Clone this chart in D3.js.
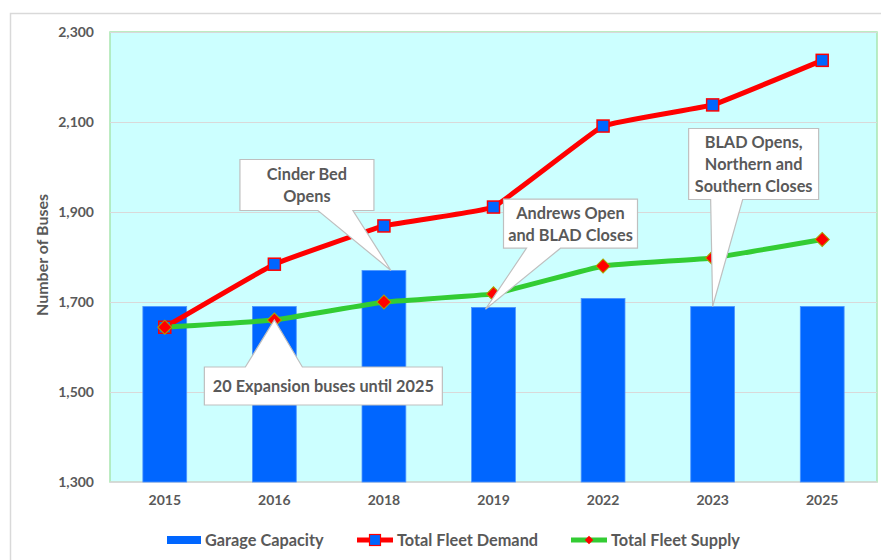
<!DOCTYPE html>
<html>
<head>
<meta charset="utf-8">
<script src="https://cdn.jsdelivr.net/npm/d3@7"></script>
<style>
  body { margin: 0; background: #fff; }
  text { font-family: Lato, "Open Sans", sans-serif; fill: #595959; font-weight: bold; }
</style>
</head>
<body>
<div id="chart"><svg></svg></div>
<script>
const categories = ["2015", "2016", "2018", "2019", "2022", "2023", "2025"];
const garageCapacity = [1690, 1690, 1770, 1688, 1708, 1690, 1690];
const fleetDemand = [1644, 1784, 1869, 1911, 2091, 2138, 2237];
const fleetSupply = [1644, 1660, 1700, 1718, 1780, 1798, 1839];
const yTicks = [1300, 1500, 1700, 1900, 2100, 2300];
const seriesNames = ["Garage Capacity", "Total Fleet Demand", "Total Fleet Supply"];

// callouts: tip anchored to a data point, box placed relative to the tip
const callouts = [
  {lines: ["Cinder Bed", "Opens"], cat: "2018", value: 1770, tipDx: 7,
    box: [-151, -17, -111, -60], tail: [-73, -38], side: "bottom"},
  {lines: ["20 Expansion buses until 2025"], cat: "2016", value: 1660, tipDx: 0,
    box: [-70, 168, 47, 85], tail: [-29, 28], side: "top"},
  {lines: ["Andrews Open", "and BLAD Closes"], cat: "2019", value: 1684, tipDx: -8,
    box: [18, 152, -110, -61], tail: [41, 75], side: "bottom"},
  {lines: ["BLAD Opens,", "Northern and", "Southern Closes"], cat: "2023", value: 1690, tipDx: 0,
    box: [-24, 106, -178, -107], tail: [-2, 30], side: "bottom"}
];

const chartSize = {width: 881, height: 560};
const margin = {left: 110, right: 4, top: 32, bottom: 78};
const width = chartSize.width - margin.left - margin.right;
const height = chartSize.height - margin.top - margin.bottom;

const svg = d3.select("#chart svg")
  .attr("width", chartSize.width)
  .attr("height", chartSize.height);

// outer frame
svg.append("path")
  .attr("d", "M10.5,570 V13.5 H890")
  .attr("fill", "none")
  .attr("stroke", "#d9d9d9")
  .attr("stroke-width", 1.5);

const g = svg.append("g")
  .attr("transform", `translate(${margin.left},${margin.top})`);

const x = d3.scaleBand()
  .domain(categories)
  .range([0, width])
  .paddingInner(0.6)
  .paddingOuter(0.3);

const y = d3.scaleLinear()
  .domain([1300, 2300])
  .range([height, 0]);

const cx = c => x(c) + x.bandwidth() / 2;

g.append("rect")
  .attr("width", width)
  .attr("height", height)
  .attr("fill", "#ccffff")
  .attr("stroke", "#a8e6b0")
  .attr("stroke-width", 1.5);

const yAxis = d3.axisLeft(y).tickValues(yTicks).tickSize(-width).tickFormat(d3.format(","));
g.append("g")
  .attr("class", "y-axis")
  .call(yAxis)
  .call(a => a.select(".domain").remove())
  .call(a => a.selectAll(".tick line").attr("stroke", "#d9d9d9").attr("stroke-width", 1.2))
  .call(a => a.selectAll(".tick text").attr("x", -16).style("font-size", "14px"));

g.append("line")
  .attr("x1", 0).attr("x2", width)
  .attr("y1", height).attr("y2", height)
  .attr("stroke", "#d9d9d9").attr("stroke-width", 1.5);

const xAxis = d3.axisBottom(x).tickSize(0);
g.append("g")
  .attr("class", "x-axis")
  .attr("transform", `translate(0,${height})`)
  .call(xAxis)
  .call(a => a.select(".domain").remove())
  .call(a => a.selectAll(".tick text").attr("dy", "1.45em").style("font-size", "14px"));

g.append("text")
  .attr("transform", "rotate(-90)")
  .attr("x", -223)
  .attr("y", -62)
  .attr("text-anchor", "middle")
  .style("font-size", "16px")
  .text("Number of Buses");

// bars
g.selectAll(".bar")
  .data(garageCapacity)
  .enter()
  .append("rect")
  .attr("class", "bar")
  .attr("x", (d, i) => x(categories[i]))
  .attr("y", d => y(d))
  .attr("width", x.bandwidth())
  .attr("height", d => height - y(d))
  .attr("fill", "#0066ff")
  .attr("stroke", "#4d94ff")
  .attr("stroke-width", 0.8);

const line = d3.line()
  .x((d, i) => cx(categories[i]))
  .y(d => y(d))
  .curve(d3.curveCardinal.tension(0.75));

g.append("path")
  .datum(fleetDemand)
  .attr("d", line)
  .attr("fill", "none")
  .attr("stroke", "#ff0000")
  .attr("stroke-width", 5);

g.append("path")
  .datum(fleetSupply)
  .attr("d", line)
  .attr("fill", "none")
  .attr("stroke", "#33cc33")
  .attr("stroke-width", 5);

g.selectAll(".sq")
  .data(fleetDemand)
  .enter()
  .append("rect")
  .attr("class", "sq")
  .attr("x", (d, i) => cx(categories[i]) - 6)
  .attr("y", d => y(d) - 6)
  .attr("width", 12)
  .attr("height", 12)
  .attr("fill", "#0066ff")
  .attr("stroke", "#ff0000")
  .attr("stroke-width", 1.5);

const diamond = d3.symbol().type(d3.symbolSquare).size(100);
g.selectAll(".dm")
  .data(fleetSupply)
  .enter()
  .append("path")
  .attr("class", "dm")
  .attr("d", diamond)
  .attr("transform", (d, i) => `translate(${cx(categories[i])},${y(d)}) rotate(45)`)
  .attr("fill", "#ff0000")
  .attr("stroke", "#a6a600")
  .attr("stroke-width", 1);

// callouts
callouts.forEach(c => {
  const tx = cx(c.cat) + c.tipDx;
  const ty = y(c.value);
  const [l, r, t, b] = [tx + c.box[0], tx + c.box[1], ty + c.box[2], ty + c.box[3]];
  const [a1, a2] = [tx + c.tail[0], tx + c.tail[1]];
  const d = c.side === "bottom"
    ? `M${l},${t} H${r} V${b} H${a2} L${tx},${ty} L${a1},${b} H${l} Z`
    : `M${l},${t} H${a1} L${tx},${ty} L${a2},${t} H${r} V${b} H${l} Z`;
  g.append("path")
    .attr("d", d)
    .attr("fill", "#ffffff")
    .attr("stroke", "#bfbfbf")
    .attr("stroke-width", 1.2);
  const lh = 22;
  const midY = (t + b) / 2 - (c.lines.length - 1) * lh / 2;
  g.append("text")
    .attr("text-anchor", "middle")
    .style("font-size", "16.3px")
    .selectAll("tspan")
    .data(c.lines)
    .enter()
    .append("tspan")
    .attr("x", (l + r) / 2)
    .attr("y", (d, i) => midY + i * lh)
    .attr("dy", "0.36em")
    .text(d => d);
});

// legend
const legend = svg.append("g").attr("transform", "translate(0,540)");
const legendX = [167, 357, 571];

legend.append("rect")
  .attr("x", legendX[0]).attr("y", -4)
  .attr("width", 34).attr("height", 8)
  .attr("fill", "#0066ff");

legend.append("line")
  .attr("x1", legendX[1]).attr("x2", legendX[1] + 36)
  .attr("stroke", "#ff0000").attr("stroke-width", 5);
legend.append("rect")
  .attr("x", legendX[1] + 12.5).attr("y", -5.5)
  .attr("width", 11).attr("height", 11)
  .attr("fill", "#0066ff").attr("stroke", "#ff0000").attr("stroke-width", 1.2);

legend.append("line")
  .attr("x1", legendX[2]).attr("x2", legendX[2] + 36)
  .attr("stroke", "#33cc33").attr("stroke-width", 5);
legend.append("path")
  .attr("d", d3.symbol().type(d3.symbolSquare).size(36))
  .attr("transform", `translate(${legendX[2] + 18},0) rotate(45)`)
  .attr("fill", "#ff0000");

legend.selectAll(".lg-text")
  .data(seriesNames)
  .enter()
  .append("text")
  .attr("x", (d, i) => legendX[i] + (i === 0 ? 38 : 40))
  .attr("dy", "0.36em")
  .style("font-size", "16.3px")
  .text(d => d);
</script>
</body>
</html>
